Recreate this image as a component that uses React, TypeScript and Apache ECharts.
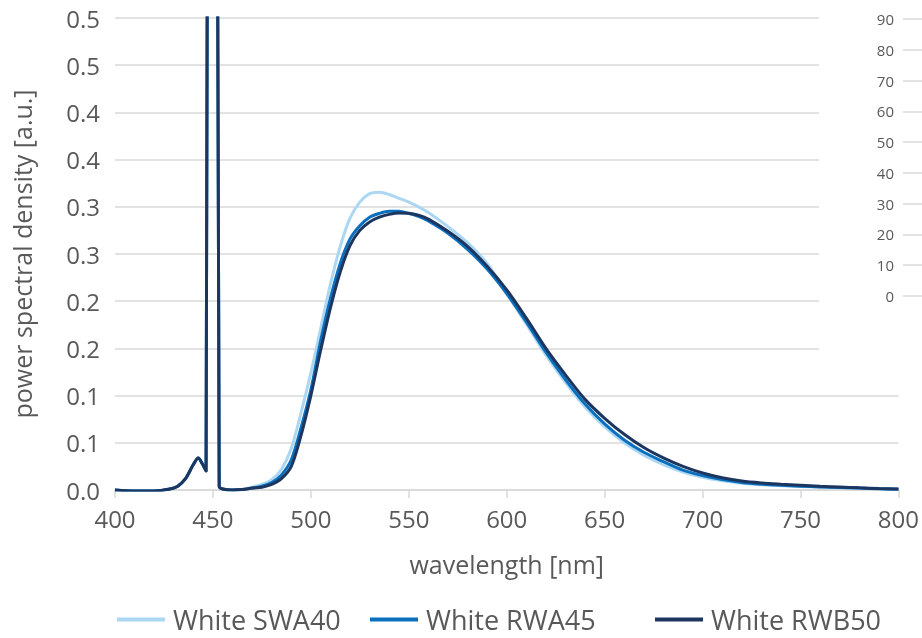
import { useEffect, useRef } from "react";
import * as echarts from "echarts";

const wavelengths = [
  400, 410, 420, 428, 432, 436, 440, 442.5, 444.5, 446.5, 447.5, 449.7, 451.9, 453.2, 455, 460, 465,
  470, 475, 480, 485, 490, 495, 500, 505, 510, 515, 520, 525, 530, 535, 540, 545, 550, 555, 560,
  570, 580, 590, 600, 610, 620, 630, 640, 650, 660, 670, 680, 690, 700, 710, 720, 730, 740, 750,
  760, 770, 780, 790, 800,
];

const blueLed = [0, -0.001, -0.001, 0.001, 0.004, 0.012, 0.027, 0.034, 0.028, 0.02, 1.0, 1.5, 1.0, 0.004, 0.001, 0.0, 0.0005];

const swa40 = [
  ...blueLed,
  0.003, 0.006, 0.011, 0.022, 0.044, 0.082, 0.124, 0.171, 0.218, 0.258, 0.288, 0.305, 0.314, 0.3155, 0.313,
  0.309, 0.305, 0.3, 0.294, 0.279, 0.262, 0.24, 0.208, 0.176, 0.143, 0.114, 0.088, 0.067, 0.05, 0.037,
  0.027, 0.019, 0.0135, 0.0098, 0.0072, 0.0056, 0.0046, 0.0038, 0.0031, 0.0025, 0.0019, 0.0013, 0.0008,
];

const rwa45 = [
  ...blueLed,
  0.002, 0.004, 0.008, 0.016, 0.032, 0.066, 0.106, 0.158, 0.203, 0.24, 0.266, 0.28, 0.289, 0.293, 0.2953,
  0.2952, 0.293, 0.29, 0.285, 0.272, 0.255, 0.234, 0.208, 0.178, 0.146, 0.117, 0.091, 0.07, 0.053, 0.04,
  0.03, 0.021, 0.0152, 0.011, 0.008, 0.0062, 0.005, 0.0041, 0.0033, 0.0026, 0.002, 0.0014, 0.0009,
];

const rwb50 = [
  ...blueLed,
  0.002, 0.003, 0.006, 0.012, 0.025, 0.058, 0.1, 0.148, 0.193, 0.231, 0.259, 0.275, 0.284, 0.289, 0.292,
  0.2935, 0.2932, 0.291, 0.287, 0.274, 0.258, 0.237, 0.212, 0.182, 0.15, 0.122, 0.096, 0.076, 0.059, 0.045,
  0.034, 0.025, 0.018, 0.013, 0.0095, 0.0075, 0.0062, 0.0051, 0.004, 0.0031, 0.0023, 0.0016, 0.001,
];

const seriesNames = ["White SWA40", "White RWA45", "White RWB50"];
const seriesValues = [swa40, rwa45, rwb50];
const seriesColors = ["#acd7f2", "#0a6fbd", "#1d365f"];
const legendLefts = [117, 370, 655];

const xRange = [400, 800];
const xStep = 50;
const leftRange = [0, 0.5];
const leftStep = 0.05;
const rightRange = [0, 90];
const rightStep = 10;

const FONT = "'Open Sans', 'Noto Sans', sans-serif";
const TEXT = "#595959";
const GRID = "#d9d9d9";

export default function App() {
  const ref = useRef<HTMLDivElement>(null);
  useEffect(() => {
    const chart = echarts.init(ref.current!, null, { renderer: "svg" });
    chart.setOption({
      animation: false,
      textStyle: { fontFamily: FONT, color: TEXT },
      grid: [
        { left: 115, right: 22, top: 18, bottom: 148, containLabel: false },
        { left: 903, right: 0, top: 19, bottom: 342, containLabel: false },
      ],
      graphic: [
        {
          type: "rect",
          z: 5,
          shape: { x: 819, y: 0, width: 103, height: 370 },
          style: { fill: "#ffffff" },
          silent: true,
        },
      ],
      legend: seriesNames.map((name, i) => ({
        data: [name],
        icon: "rect",
        itemWidth: 48,
        itemHeight: 4,
        left: legendLefts[i],
        top: 606,
        padding: 0,
        textStyle: { fontFamily: FONT, fontSize: 27, color: TEXT, padding: [0, 0, 0, 3] },
      })),
      xAxis: [
        {
          type: "value",
          gridIndex: 0,
          min: xRange[0],
          max: xRange[1],
          interval: xStep,
          name: "wavelength [nm]",
          nameLocation: "middle",
          nameGap: 61,
          nameTextStyle: { fontFamily: FONT, fontSize: 25, color: TEXT },
          axisLine: { show: true, lineStyle: { color: GRID, width: 1.5 } },
          axisTick: { show: true, length: 8, lineStyle: { color: GRID, width: 1.5 } },
          axisLabel: { fontFamily: FONT, fontSize: 24, color: TEXT, margin: 16 },
          splitLine: { show: false },
        },
        {
          type: "value",
          gridIndex: 1,
          min: 0,
          max: 1,
          show: false,
        },
      ],
      yAxis: [
        {
          type: "value",
          gridIndex: 0,
          min: leftRange[0],
          max: leftRange[1],
          interval: leftStep,
          name: "power spectral density [a.u.]",
          nameLocation: "middle",
          nameGap: 81,
          nameTextStyle: { fontFamily: FONT, fontSize: 25, color: TEXT },
          axisLine: { show: false },
          axisTick: { show: false },
          axisLabel: {
            fontFamily: FONT,
            fontSize: 24,
            color: TEXT,
            margin: 15,
            formatter: (v: number) => (Math.round(v * 10) / 10).toFixed(1),
          },
          splitLine: { show: true, lineStyle: { color: GRID, width: 1.5 } },
        },
        {
          type: "value",
          gridIndex: 1,
          position: "left",
          z: 10,
          min: rightRange[0],
          max: rightRange[1],
          interval: rightStep,
          axisLine: { show: false },
          axisTick: { show: false },
          axisLabel: { fontFamily: FONT, fontSize: 15, color: TEXT, margin: 9 },
          splitLine: { show: true, lineStyle: { color: GRID, width: 1.5 } },
        },
      ],
      series: seriesNames.map((name, i) => ({
        name,
        type: "line",
        xAxisIndex: 0,
        yAxisIndex: 0,
        data: wavelengths.map((w, j) => [w, seriesValues[i][j]]),
        showSymbol: false,
        symbol: "none",
        smooth: 0.3,
        clip: true,
        lineStyle: { color: seriesColors[i], width: 3 },
        itemStyle: { color: seriesColors[i] },
        z: 2 + i,
      })),
    });
    return () => chart.dispose();
  }, []);
  return <div ref={ref} style={{ position: "fixed", left: 0, top: 0, width: 922, height: 638 }} />;
}
